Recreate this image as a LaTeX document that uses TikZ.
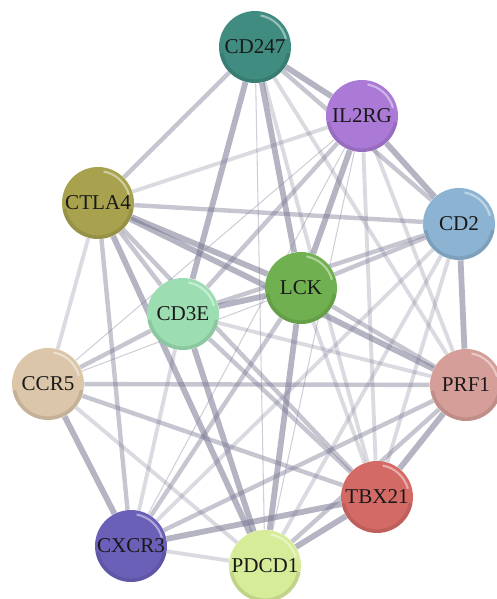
\documentclass[tikz,border=0pt]{standalone}
\usepackage{fontspec}
\setmainfont{Liberation Serif}
\usetikzlibrary{backgrounds}

\definecolor{cTeal}{RGB}{64,140,128}
\definecolor{cPurple}{RGB}{170,122,214}
\definecolor{cOlive}{RGB}{168,162,78}
\definecolor{cSteel}{RGB}{140,180,210}
\definecolor{cGreen}{RGB}{112,176,80}
\definecolor{cMint}{RGB}{156,222,178}
\definecolor{cTan}{RGB}{220,198,170}
\definecolor{cRose}{RGB}{214,158,152}
\definecolor{cRed}{RGB}{212,106,102}
\definecolor{cIndigo}{RGB}{106,96,184}
\definecolor{cLime}{RGB}{214,236,152}
\definecolor{edgecol}{RGB}{120,118,145}

\tikzset{
  gene/.style={circle, fill=#1, minimum size=1.44cm, inner sep=0pt,
    font=\fontsize{12}{13}\selectfont, text=black!90,
    path picture={
      \draw[white, opacity=.45, line width=1.2pt]
        (path picture bounding box.center) ++(15:.64cm) arc (15:80:.64cm);
      \draw[black, opacity=.10, line width=3pt]
        (path picture bounding box.center) ++(190:.7cm) arc (190:350:.7cm);
    }},
  ethick/.style={draw=edgecol, line width=3.3pt, opacity=.55},
  emid/.style={draw=edgecol, line width=2.5pt, opacity=.42},
  elight/.style={draw=edgecol, line width=2.2pt, opacity=.27},
  ethin/.style={draw=edgecol, line width=.6pt, opacity=.35}
}

\begin{document}
\begin{tikzpicture}[x=0.02cm, y=-0.02cm]
  \useasboundingbox (0,0) rectangle (497,599);
  % genes
  \node[gene=cTeal]   (cd247) at (255,47)  {CD247};
  \node[gene=cPurple] (il2rg) at (362,116) {IL2RG};
  \node[gene=cOlive]  (ctla4) at (98,203)  {CTLA4};
  \node[gene=cSteel]  (cd2)   at (459,224) {CD2};
  \node[gene=cGreen]  (lck)   at (301,288) {LCK};
  \node[gene=cMint]   (cd3e)  at (183,314) {CD3E};
  \node[gene=cTan]    (ccr5)  at (48,384)  {CCR5};
  \node[gene=cRose]   (prf1)  at (466,385) {PRF1};
  \node[gene=cRed]    (tbx21) at (377,497) {TBX21};
  \node[gene=cIndigo] (cxcr3) at (131,546) {CXCR3};
  \node[gene=cLime]   (pdcd1) at (265,566) {PDCD1};
  % interactions, by score
  \begin{pgfonlayer}{background}
    \foreach \a/\b in {ctla4/il2rg, cd247/tbx21, cd247/prf1, il2rg/prf1, il2rg/tbx21,
      ctla4/ccr5, cd3e/prf1, cd3e/cxcr3, tbx21/cd2, tbx21/lck, pdcd1/ccr5,
      pdcd1/cxcr3, pdcd1/cd2, cxcr3/cd2}
      { \draw[elight] (\a) -- (\b); }
    \foreach \a/\b in {cd247/pdcd1, il2rg/pdcd1, il2rg/cxcr3, il2rg/ccr5, lck/ccr5}
      { \draw[ethin] (\a) -- (\b); }
    \foreach \a/\b in {cd247/ctla4, cd247/cd2, il2rg/cd3e, ctla4/cd2, ctla4/cd3e,
      ctla4/cxcr3, ctla4/tbx21, cd2/lck, cd2/cd3e, lck/prf1, lck/cxcr3,
      cd3e/ccr5, cd3e/tbx21, ccr5/prf1, ccr5/tbx21, prf1/cxcr3, prf1/pdcd1}
      { \draw[emid] (\a) -- (\b); }
    \foreach \a/\b in {cd247/il2rg, cd247/cd3e, cd247/lck, il2rg/lck, il2rg/cd2,
      ctla4/lck, ctla4/prf1, ctla4/pdcd1, cd2/prf1, lck/cd3e, lck/pdcd1,
      cd3e/pdcd1, ccr5/cxcr3, prf1/tbx21, tbx21/cxcr3, tbx21/pdcd1}
      { \draw[ethick] (\a) -- (\b); }
  \end{pgfonlayer}
\end{tikzpicture}
\end{document}
